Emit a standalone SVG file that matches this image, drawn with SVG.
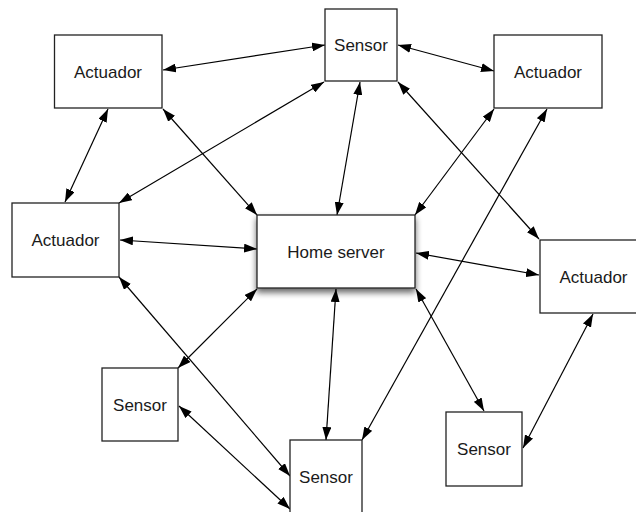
<svg xmlns="http://www.w3.org/2000/svg" width="636" height="512" viewBox="0 0 636 512">
<style>
.box{fill:#fff;stroke:#222;stroke-width:1.3}
.lbl{font-family:"Liberation Sans",Arial,sans-serif;font-size:17px;fill:#1a1a1a;text-anchor:middle}
.c{stroke:#000;stroke-width:1.2;fill:none;marker-start:url(#ah);marker-end:url(#ah)}
</style>
<defs>
<marker id="ah" viewBox="0 0 13 9" refX="13" refY="4.5" markerWidth="13" markerHeight="9" markerUnits="userSpaceOnUse" orient="auto-start-reverse">
<path d="M0,0 L13,4.5 L0,9 z" fill="#000"/>
</marker>
<filter id="sh" x="-20%" y="-20%" width="140%" height="160%">
<feGaussianBlur in="SourceAlpha" stdDeviation="3"/>
<feOffset dx="0" dy="4" result="b"/>
<feComponentTransfer><feFuncA type="linear" slope="0.6"/></feComponentTransfer>
<feMerge><feMergeNode/><feMergeNode in="SourceGraphic"/></feMerge>
</filter>
</defs>
<rect width="636" height="512" fill="#fff"/>
<g id="connectors">
<line class="c" x1="163" y1="70" x2="325" y2="45"/>
<line class="c" x1="108" y1="109" x2="65" y2="202"/>
<line class="c" x1="163" y1="109" x2="257" y2="215"/>
<line class="c" x1="324" y1="82" x2="119" y2="203"/>
<line class="c" x1="120" y1="240" x2="257" y2="249"/>
<line class="c" x1="398" y1="45" x2="494" y2="71"/>
<line class="c" x1="360" y1="82" x2="337" y2="215"/>
<line class="c" x1="398" y1="82" x2="539" y2="239"/>
<line class="c" x1="494" y1="109" x2="415" y2="215"/>
<line class="c" x1="547" y1="109" x2="362" y2="440"/>
<line class="c" x1="416" y1="253" x2="539" y2="275"/>
<line class="c" x1="257" y1="289" x2="178" y2="368"/>
<line class="c" x1="119" y1="277" x2="290" y2="476"/>
<line class="c" x1="179" y1="406" x2="290" y2="509"/>
<line class="c" x1="336" y1="289" x2="326" y2="440"/>
<line class="c" x1="416" y1="289" x2="484" y2="411"/>
<line class="c" x1="593" y1="314" x2="523" y2="448"/>
</g>
<g id="act1"><rect class="box" x="54.5" y="35" width="107.5" height="73"/><text class="lbl" x="108" y="77.5">Actuador</text></g>
<g id="sensor1"><rect class="box" x="325" y="9" width="72" height="72"/><text class="lbl" x="361" y="51">Sensor</text></g>
<g id="act2"><rect class="box" x="494" y="35" width="108" height="73"/><text class="lbl" x="548" y="77.5">Actuador</text></g>
<g id="act3"><rect class="box" x="12" y="203" width="107" height="74"/><text class="lbl" x="65.5" y="246">Actuador</text></g>
<g id="home"><rect class="box" x="257" y="215" width="158" height="73" filter="url(#sh)"/><text class="lbl" x="336" y="257.5">Home server</text></g>
<g id="act4"><rect class="box" x="540" y="240" width="107" height="73"/><text class="lbl" x="593.5" y="282.5">Actuador</text></g>
<g id="sensor2"><rect class="box" x="102" y="368" width="76" height="73"/><text class="lbl" x="140" y="410.5">Sensor</text></g>
<g id="sensor3"><rect class="box" x="290" y="440" width="72" height="74"/><text class="lbl" x="326" y="483">Sensor</text></g>
<g id="sensor4"><rect class="box" x="446" y="412" width="76" height="74"/><text class="lbl" x="484" y="455">Sensor</text></g>
</svg>
